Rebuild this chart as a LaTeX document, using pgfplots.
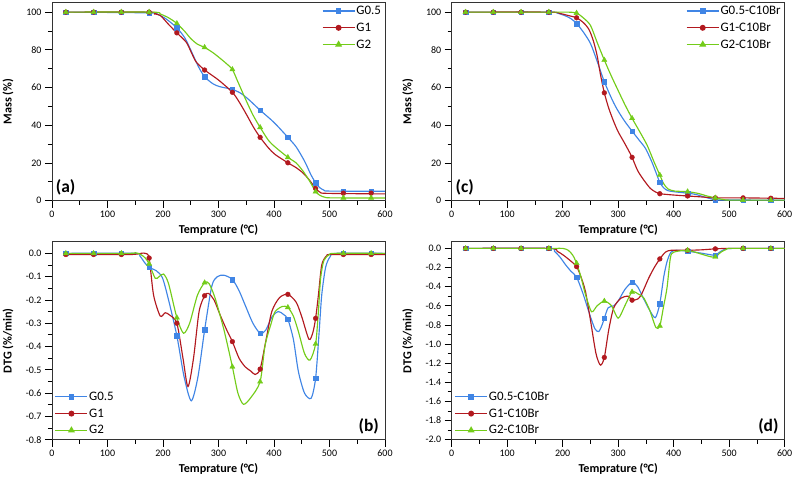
\documentclass[border=0pt]{standalone}
\usepackage{fontspec}
\setmainfont{Carlito}
\usepackage{pgfplots}
\pgfplotsset{compat=1.18}
\definecolor{cb}{rgb}{0.25,0.52,0.90}
\definecolor{cr}{rgb}{0.70,0.10,0.12}
\definecolor{cg}{rgb}{0.45,0.80,0.10}
\tikzset{plab/.style={font=\bfseries\fontsize{17.5}{18}\selectfont, inner sep=1pt}}
\pgfplotsset{
  panel/.style={
    scale only axis, width=333bp, height=198bp,
    xmin=0, xmax=600, xtick={0,100,...,600}, minor x tick num=1,
    minor y tick num=1,
    tick align=outside, tick pos=left,
    major tick length=7bp, minor tick length=4bp,
    tick style={black, line width=0.8pt},
    axis line style={black!80, line width=0.7pt},
    /pgf/number format/assume math mode=true,
    tick label style={font=\fontsize{10}{11}\selectfont},
    label style={font=\bfseries\fontsize{12.2}{13}\selectfont},
    xlabel={Temprature (°C)},
    xlabel style={at={(axis description cs:0.5,-0.148)}, anchor=center},
    ylabel style={at={(axis description cs:-0.132,0.5)}, anchor=center, rotate=0},
    legend style={draw=none, fill=none, font=\fontsize{13}{14}\selectfont, row sep=4.5pt, inner sep=1pt,
      nodes={inner sep=1.2pt}},
    legend cell align=left,
    legend image code/.code={\draw[mark repeat=2,mark phase=2,##1] plot coordinates {(0bp,0bp) (16bp,0bp) (32bp,0bp)};},
  },
  ln/.style={line width=1.15pt, smooth, tension=0.45, mark=none, forget plot},
  mk/.style={only marks, forget plot},
  sq/.style={mark=square*, mark size=2.3pt},
  ci/.style={mark=*, mark size=2.4pt},
  tr/.style={mark=triangle*, mark size=3pt},
}
\begin{document}
\begin{tikzpicture}
\useasboundingbox (0,0) rectangle (795bp,479bp);
% ---------------- (a)
\begin{axis}[panel, at={(52bp,278.3bp)}, anchor=south west,
  ymin=0, ymax=105, ytick={0,20,...,100}, ylabel={Mass (\%)},
  legend style={at={(0.995,0.995)}, anchor=north east}]
\addplot[cb, ln] coordinates {(25,100) (175,99.6) (190,98.8) (205,96.5) (225,91.7) (240,86) (253,78) (264,71) (275,65.7) (290,62) (302,60.5) (325,59) (340,57) (355,53.5) (375,48) (400,41.5) (425,33.6) (440,28.5) (455,21) (467,13.5) (475,9.5) (482,7) (490,5.6) (500,5.1) (600,5)};
\addplot[cb, mk, sq] coordinates {(25,100) (75,100) (125,100) (175,99.5) (225,91.7) (275,65.7) (325,59) (375,48) (425,33.6) (475,9.5) (525,5) (575,5)};
\addplot[cr, ln] coordinates {(25,100) (175,100) (185,99) (195,98.3) (210,93.5) (225,89) (242,84) (252,78) (260,73.5) (275,69.3) (300,64) (325,57.5) (338,52) (351,45.4) (363,39) (375,33.6) (390,28) (402,24.5) (425,20.1) (440,17.5) (453,14.5) (465,10.5) (475,6.5) (483,4.5) (495,3.9) (600,3.6)};
\addplot[cr, mk, ci] coordinates {(25,100) (75,100) (125,100) (175,100) (225,89) (275,69.3) (325,57.5) (375,33.6) (425,20.1) (475,6.5) (525,4) (575,4)};
\addplot[cg, ln] coordinates {(25,100) (180,100) (195,99) (210,97) (225,94) (240,89.5) (250,86) (262,83) (275,81.3) (290,78.5) (303,75.5) (315,72.5) (325,69.6) (335,63) (348,54.3) (362,45.5) (375,38.9) (390,32) (402,28.5) (425,23) (440,20) (453,15.4) (465,10) (475,4.8) (483,2.8) (492,1.8) (505,1.5) (600,1.4)};
\addplot[cg, mk, tr] coordinates {(25,100) (75,100) (125,100) (175,100) (225,94) (275,81.3) (325,69.6) (375,38.9) (425,23) (475,4.8) (525,1.5) (575,1.5)};
\addlegendimage{cb, line width=1.15pt, sq}\addlegendentry{G0.5}
\addlegendimage{cr, line width=1.15pt, ci}\addlegendentry{G1}
\addlegendimage{cg, line width=1.15pt, tr}\addlegendentry{G2}
\node[plab, anchor=south west] at (rel axis cs:0.008,0.02) {(a)};
\end{axis}
% ---------------- (c)
\begin{axis}[panel, at={(451.7bp,278.3bp)}, anchor=south west,
  ymin=0, ymax=105, ytick={0,20,...,100}, ylabel={Mass (\%)},
  legend style={at={(0.995,0.995)}, anchor=north east}]
\addplot[cb, ln] coordinates {(25,100) (175,100) (190,99.5) (205,98) (215,96.5) (225,94) (237,89.5) (250,83.4) (262,74) (275,63.1) (290,53) (300,47.5) (312,42) (325,36.9) (338,32) (349,27.8) (360,21) (368,15) (375,9.7) (382,6.8) (390,5.3) (405,4.6) (425,4) (440,3.3) (455,2) (470,0.8) (480,0.4) (600,0.3)};
\addplot[cb, mk, sq] coordinates {(25,100) (75,100) (125,100) (175,100) (225,94) (275,63.1) (325,36.9) (375,9.7) (425,4) (475,0.6) (525,0.3) (575,0.3)};
\addplot[cr, ln] coordinates {(25,100) (175,100) (195,99.3) (210,98.2) (225,97) (237,94.5) (247,91) (255,85) (262,77) (268,67) (275,57.2) (283,49) (292,41.9) (300,36.5) (310,31.3) (318,27) (325,23) (335,16) (346,11) (358,6.5) (368,4.5) (375,3.7) (400,3) (425,2.5) (450,2) (475,1.5) (525,1.5) (600,1.2)};
\addplot[cr, mk, ci] coordinates {(25,100) (75,100) (125,100) (175,100) (225,97) (275,57.2) (325,23) (375,3.7) (425,2.5) (475,1.5) (525,1.5) (575,1.3)};
\addplot[cg, ln] coordinates {(25,100) (175,100) (210,100) (225,99.5) (237,97) (250,93) (262,84) (275,74.6) (287,66.5) (298,59.6) (312,51) (325,43.7) (338,37) (352,29.5) (364,21) (375,13.6) (382,9) (390,6.2) (402,5.1) (425,4.8) (445,3.8) (460,2.5) (475,1.5) (490,0.6) (505,0.3) (600,0.3)};
\addplot[cg, mk, tr] coordinates {(25,100) (75,100) (125,100) (175,100) (225,99.5) (275,74.6) (325,43.7) (375,13.6) (425,4.8) (475,1.5) (525,0.3) (575,0.3)};
\addlegendimage{cb, line width=1.15pt, sq}\addlegendentry{G0.5-C10Br}
\addlegendimage{cr, line width=1.15pt, ci}\addlegendentry{G1-C10Br}
\addlegendimage{cg, line width=1.15pt, tr}\addlegendentry{G2-C10Br}
\node[plab, anchor=south west] at (rel axis cs:0.008,0.02) {(c)};
\end{axis}
% ---------------- (b)
\begin{axis}[panel, at={(52bp,39.3bp)}, anchor=south west,
  ymin=-0.8, ymax=0.05, ytick={-0.8,-0.7,...,0.01}, ylabel={DTG (\%/min)},
  yticklabel style={/pgf/number format/.cd, fixed, fixed zerofill, precision=1},
  legend style={at={(0.005,0.01)}, anchor=south west}]
\addplot[cb, ln] coordinates {(25,0) (150,0) (158,-0.01) (167,-0.04) (175,-0.06) (188,-0.075) (199,-0.105) (210,-0.2) (225,-0.354) (238,-0.53) (251,-0.633) (263,-0.53) (275,-0.329) (288,-0.14) (298,-0.1) (310,-0.094) (325,-0.112) (337,-0.16) (348,-0.222) (362,-0.3) (375,-0.343) (385,-0.33) (397,-0.27) (408,-0.25) (417,-0.262) (425,-0.283) (435,-0.37) (444,-0.508) (455,-0.6) (467,-0.622) (475,-0.536) (481,-0.35) (486,-0.179) (493,-0.06) (501,-0.015) (512,0) (600,0)};
\addplot[cb, mk, sq] coordinates {(25,0) (75,0) (125,0) (175,-0.06) (225,-0.354) (275,-0.329) (325,-0.112) (375,-0.343) (425,-0.283) (475,-0.536) (525,0) (575,0)};
\addplot[cr, ln] coordinates {(25,-0.005) (140,-0.005) (160,0) (168,0) (175,-0.02) (183,-0.179) (195,-0.269) (204,-0.255) (212,-0.265) (225,-0.3) (236,-0.45) (245,-0.572) (255,-0.45) (265,-0.25) (275,-0.182) (282,-0.172) (292,-0.2) (303,-0.265) (315,-0.33) (325,-0.379) (337,-0.45) (348,-0.487) (358,-0.505) (366,-0.52) (375,-0.497) (385,-0.38) (396,-0.25) (410,-0.19) (425,-0.176) (440,-0.21) (450,-0.272) (463,-0.369) (470,-0.34) (475,-0.279) (480,-0.18) (486,-0.05) (495,-0.01) (505,-0.005) (600,-0.005)};
\addplot[cr, mk, ci] coordinates {(25,-0.005) (75,-0.005) (125,-0.005) (175,-0.02) (225,-0.3) (275,-0.182) (325,-0.379) (375,-0.497) (425,-0.176) (475,-0.279) (525,-0.005) (575,-0.005)};
\addplot[cg, ln] coordinates {(25,0) (140,0) (150,0.003) (160,-0.005) (168,-0.02) (175,-0.045) (186,-0.107) (193,-0.1) (201,-0.089) (210,-0.13) (225,-0.276) (237,-0.343) (248,-0.3) (262,-0.18) (275,-0.126) (283,-0.13) (294,-0.193) (310,-0.33) (325,-0.487) (335,-0.6) (345,-0.648) (358,-0.62) (375,-0.551) (384,-0.394) (395,-0.3) (402,-0.25) (415,-0.228) (425,-0.232) (435,-0.27) (444,-0.336) (455,-0.43) (465,-0.458) (475,-0.389) (480,-0.25) (484,-0.107) (490,-0.03) (500,-0.005) (510,0) (600,0)};
\addplot[cg, mk, tr] coordinates {(25,0) (75,0) (125,0) (175,-0.045) (225,-0.276) (275,-0.126) (325,-0.487) (375,-0.551) (425,-0.232) (475,-0.389) (525,0) (575,0)};
\addlegendimage{cb, line width=1.15pt, sq}\addlegendentry{G0.5}
\addlegendimage{cr, line width=1.15pt, ci}\addlegendentry{G1}
\addlegendimage{cg, line width=1.15pt, tr}\addlegendentry{G2}
\node[plab, anchor=south east] at (rel axis cs:0.985,0.02) {(b)};
\end{axis}
% ---------------- (d)
\begin{axis}[panel, at={(451.7bp,39.3bp)}, anchor=south west,
  ymin=-2.0, ymax=0.07, ytick={-2.0,-1.8,...,0.01}, ylabel={DTG (\%/min)},
  yticklabel style={/pgf/number format/.cd, fixed, fixed zerofill, precision=1},
  legend style={at={(0.005,0.01)}, anchor=south west}]
\addplot[cb, ln] coordinates {(25,0) (175,0) (185,-0.03) (195,-0.09) (205,-0.17) (215,-0.24) (225,-0.3) (237,-0.48) (248,-0.68) (258,-0.84) (265,-0.869) (271,-0.8) (275,-0.73) (282,-0.62) (292,-0.6) (300,-0.55) (312,-0.43) (325,-0.355) (335,-0.4) (345,-0.517) (357,-0.65) (367,-0.724) (375,-0.576) (382,-0.3) (388,-0.138) (395,-0.04) (405,-0.02) (425,-0.03) (450,-0.05) (465,-0.065) (475,-0.07) (485,-0.03) (495,-0.005) (510,0) (600,0)};
\addplot[cb, mk, sq] coordinates {(25,0) (75,0) (125,0) (175,0) (225,-0.3) (275,-0.73) (325,-0.355) (375,-0.576) (425,-0.03) (475,-0.07) (525,0) (575,0)};
\addplot[cr, ln] coordinates {(25,0) (175,0) (190,-0.03) (201,-0.07) (212,-0.12) (225,-0.19) (233,-0.3) (241,-0.45) (250,-0.75) (260,-1.1) (268,-1.22) (275,-1.14) (283,-0.85) (292,-0.62) (305,-0.52) (318,-0.5) (325,-0.541) (335,-0.53) (342,-0.48) (355,-0.31) (365,-0.2) (375,-0.11) (385,-0.04) (395,-0.02) (425,-0.02) (450,-0.015) (475,-0.005) (500,0) (600,0)};
\addplot[cr, mk, ci] coordinates {(25,0) (75,0) (125,0) (175,0) (225,-0.19) (275,-1.14) (325,-0.541) (375,-0.11) (425,-0.02) (475,-0.005) (525,0) (575,0)};
\addplot[cg, ln] coordinates {(25,0) (175,0) (200,0) (210,-0.02) (218,-0.07) (225,-0.155) (233,-0.3) (241,-0.482) (252,-0.662) (262,-0.6) (275,-0.551) (288,-0.6) (300,-0.73) (312,-0.6) (325,-0.455) (337,-0.48) (346,-0.517) (357,-0.65) (368,-0.828) (375,-0.81) (382,-0.6) (388,-0.41) (394,-0.1) (400,-0.04) (425,-0.02) (450,-0.06) (465,-0.085) (475,-0.09) (485,-0.04) (495,-0.01) (505,0) (600,0)};
\addplot[cg, mk, tr] coordinates {(25,0) (75,0) (125,0) (175,0) (225,-0.155) (275,-0.551) (325,-0.455) (375,-0.81) (425,-0.02) (475,-0.09) (525,0) (575,0)};
\addlegendimage{cb, line width=1.15pt, sq}\addlegendentry{G0.5-C10Br}
\addlegendimage{cr, line width=1.15pt, ci}\addlegendentry{G1-C10Br}
\addlegendimage{cg, line width=1.15pt, tr}\addlegendentry{G2-C10Br}
\node[plab, anchor=south east] at (rel axis cs:0.985,0.02) {(d)};
\end{axis}
\end{tikzpicture}
\end{document}
